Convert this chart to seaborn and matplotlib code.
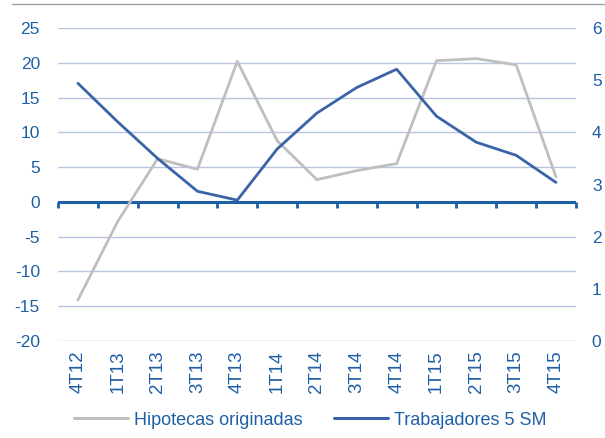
import numpy as np
import pandas as pd
import matplotlib
matplotlib.use("Agg")
import matplotlib.pyplot as plt
from matplotlib.lines import Line2D
import seaborn as sns

# --- datos ---
trimestres = ["4T12", "1T13", "2T13", "3T13", "4T13", "1T14", "2T14",
              "3T14", "4T14", "1T15", "2T15", "3T15", "4T15"]
hipotecas = [-14.1, -2.8, 6.2, 4.7, 20.2, 8.8, 3.2, 4.5, 5.5, 20.3, 20.6, 19.7, 3.6]
trabajadores = [4.94, 4.20, 3.50, 2.87, 2.70, 3.68, 4.37, 4.86, 5.21, 4.31, 3.81, 3.56, 3.04]
left_ticks = [-20, -15, -10, -5, 0, 5, 10, 15, 20, 25]
right_ticks = [0, 1, 2, 3, 4, 5, 6]

df = pd.DataFrame({"trimestre": trimestres, "hipotecas": hipotecas,
                   "trabajadores": trabajadores})

azul_texto = "#1F5FA6"
azul_linea = "#3A63A8"
gris = "#BFBFBF"
grid_col = "#B8C4E4"

sns.set_theme(style="white")
plt.rcParams["font.family"] = ["Liberation Sans", "DejaVu Sans"]
plt.rcParams["axes.unicode_minus"] = False

fig = plt.figure(figsize=(6.05, 4.38), dpi=100)
ax = fig.add_axes([0.0959, 0.2215, 0.856, 0.7145])
ax2 = ax.twinx()

sns.lineplot(data=df, x="trimestre", y="hipotecas", ax=ax, color=gris,
             linewidth=2.0, label="Hipotecas originadas", legend=False, sort=False)
sns.lineplot(data=df, x="trimestre", y="trabajadores", ax=ax2, color=azul_linea,
             linewidth=2.0, label="Trabajadores 5 SM", legend=False, sort=False)

ax.set_ylim(-20, 25)
ax2.set_ylim(0, 6)
ax.set_xlim(-0.5, len(trimestres) - 0.5)
ax.set_yticks(left_ticks)
ax2.set_yticks(right_ticks)
ax.set_xlabel("")
ax.set_ylabel("")
ax2.set_ylabel("")

for a in (ax, ax2):
    for s in a.spines.values():
        s.set_visible(False)

ax.yaxis.grid(True, color=grid_col, linewidth=1)
ax.set_axisbelow(True)
ax.axhline(0, color=azul_texto, linewidth=2.2, zorder=1)

# pads en puntos (1 pt = 1.39 px a 100 dpi)
ax.tick_params(axis="y", length=0, pad=13, labelsize=12.5, labelcolor=azul_texto)
ax2.tick_params(axis="y", length=0, pad=11.5, labelsize=12.5, labelcolor=azul_texto)
ax.set_xticks(range(len(trimestres)))
ax.set_xticklabels(trimestres, rotation=90)
ax.tick_params(axis="x", length=0, pad=6.5, labelsize=13.5, labelcolor=azul_texto)

# marcas del eje en la linea de cero
sec = ax.secondary_xaxis(20 / 45)
sec.set_xticks(np.arange(len(trimestres) + 1) - 0.5)
sec.set_xticklabels([])
sec.tick_params(axis="x", direction="out", length=4, width=2, color=azul_texto)
sec.spines["bottom"].set_visible(False)

handles = [Line2D([], [], color=gris, linewidth=2.2),
           Line2D([], [], color=azul_linea, linewidth=2.2)]
fig.legend(handles, ["Hipotecas originadas", "Trabajadores 5 SM"],
           loc="center", bbox_to_anchor=(0.513, 0.041), ncol=2, frameon=False,
           fontsize=13, handlelength=3.0, handletextpad=0.33, columnspacing=1.75,
           labelcolor=azul_texto, borderpad=0)

fig.add_artist(Line2D([0.02, 1.0], [0.991, 0.991], color="#A0A0A0", linewidth=1))

fig.savefig("out.png", dpi=100)
